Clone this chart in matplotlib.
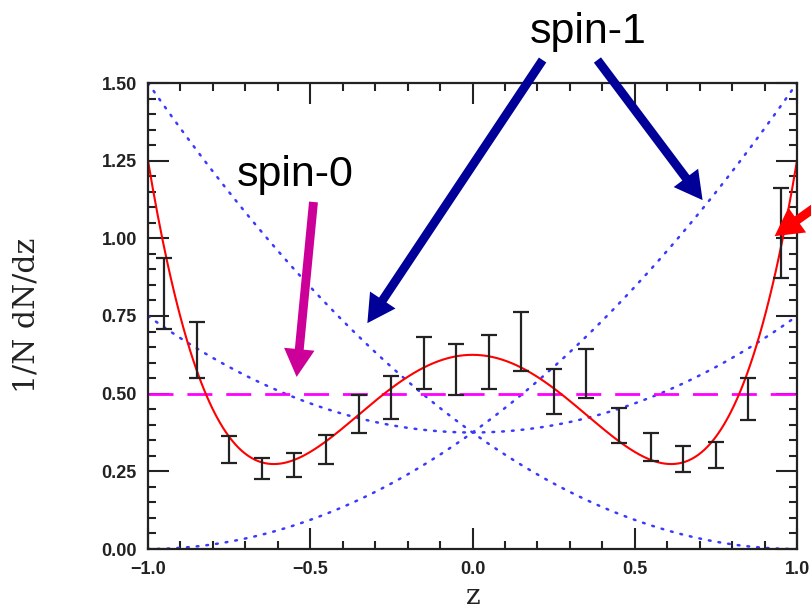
import numpy as np
import matplotlib
matplotlib.use("Agg")
import matplotlib.pyplot as plt
from matplotlib.ticker import MultipleLocator

# ---- data ----
bin_centers = [-0.95, -0.85, -0.75, -0.65, -0.55, -0.45, -0.35, -0.25, -0.15, -0.05,
               0.05, 0.15, 0.25, 0.35, 0.45, 0.55, 0.65, 0.75, 0.85, 0.95]
bar_low = [0.707, 0.549, 0.278, 0.225, 0.233, 0.274, 0.374, 0.417, 0.514, 0.495,
           0.516, 0.574, 0.436, 0.486, 0.340, 0.283, 0.247, 0.262, 0.415, 0.873]
bar_high = [0.936, 0.730, 0.364, 0.292, 0.308, 0.366, 0.495, 0.557, 0.681, 0.660,
            0.689, 0.763, 0.579, 0.645, 0.453, 0.374, 0.331, 0.345, 0.549, 1.161]

# theory curves as polynomial coefficients in z (highest power first)
fit_coeffs = [2.5, 0.0, -1.875, 0.0, 0.625]      # spin-2 fit (red)
spin1_rise = [0.375, 0.75, 0.375]                # blue dotted
spin1_fall = [0.375, -0.75, 0.375]               # blue dotted
spin1_flat = [0.375, 0.0, 0.375]                 # blue dotted
spin0_level = 0.5                                # magenta dashed

x_ticks = [-1.0, -0.5, 0.0, 0.5, 1.0]
x_ticklabels = ["\u22121.0", "\u22120.5", "0.0", "0.5", "1.0"]
y_ticks = [0.00, 0.25, 0.50, 0.75, 1.00, 1.25, 1.50]
y_ticklabels = ["0.00", "0.25", "0.50", "0.75", "1.00", "1.25", "1.50"]

W, H = 811, 611
fig = plt.figure(figsize=(W / 100, H / 100), dpi=100)
ax = fig.add_axes([148 / W, 1 - 549 / H, (797 - 148) / W, (549 - 83) / H])

z = np.linspace(-1, 1, 401)
blue = "#3a3aff"
for c in (spin1_fall, spin1_rise, spin1_flat):
    ax.plot(z, np.polyval(c, z), color=blue, lw=1.8, ls=(0, (0.7, 3.2)),
            dash_capstyle="round", clip_on=True)
ax.plot([-1, 1], [spin0_level, spin0_level], color="#ff00ff", lw=2.0,
        ls=(0, (9, 5)))
ax.plot(z, np.polyval(fit_coeffs, z), color="#ff0000", lw=1.5)

mid = [(a + b) / 2 for a, b in zip(bar_low, bar_high)]
half = [(b - a) / 2 for a, b in zip(bar_low, bar_high)]
ax.errorbar(bin_centers, mid, yerr=half, fmt="none", ecolor="#222222",
            elinewidth=1.6, capsize=5.5, capthick=1.6)

ax.set_xlim(-1, 1)
ax.set_ylim(0, 1.5)
ax.set_xticks(x_ticks)
ax.set_xticklabels(x_ticklabels)
ax.set_yticks(y_ticks)
ax.set_yticklabels(y_ticklabels)
ax.xaxis.set_minor_locator(MultipleLocator(0.1))
ax.yaxis.set_minor_locator(MultipleLocator(0.05))
ax.tick_params(which="both", direction="in", top=True, right=True, width=1.5,
               color="#222222")
ax.tick_params(which="major", length=15)
ax.tick_params(which="minor", length=6)
ax.tick_params(axis="y", which="major", pad=8)
ax.tick_params(axis="x", which="major", pad=9)
for lab in ax.get_xticklabels() + ax.get_yticklabels():
    lab.set_fontfamily("Liberation Sans")
    lab.set_fontweight("bold")
    lab.set_fontsize(13)
    lab.set_color("#222222")
for s in ax.spines.values():
    s.set_linewidth(1.6)
    s.set_color("#222222")

fig.text(27 / W, 1 - 315 / H, "1/N dN/dz", rotation=90, ha="center", va="center",
         family="DejaVu Serif", fontsize=21.5, color="#222222")
fig.text(473 / W, 1 / H, "z", ha="center", va="bottom",
         family="DejaVu Serif", fontsize=20, color="#222222")

# annotations
fig.text(588 / W, 1 - 43 / H, "spin-1", ha="center", va="baseline",
         family="Liberation Sans", fontsize=31, color="black")
fig.text(295 / W, 1 - 186 / H, "spin-0", ha="center", va="baseline",
         family="Liberation Sans", fontsize=31, color="black")

def arrow(tip, tail, color):
    ax.annotate("", xy=tip, xycoords="data", xytext=tail, textcoords="data",
                annotation_clip=False,
                arrowprops=dict(arrowstyle="simple,head_width=1.1,head_length=1.0,tail_width=0.32",
                                mutation_scale=20, color=color, lw=0,
                                shrinkA=0, shrinkB=0))

arrow((-0.542, 0.554), (-0.49, 1.117), "#cc0099")
arrow((-0.324, 0.727), (0.216, 1.574), "#000099")
arrow((0.709, 1.123), (0.385, 1.574), "#000099")
arrow((0.931, 1.007), (1.17, 1.185), "#ff0000")

fig.savefig("out.png", dpi=100)
